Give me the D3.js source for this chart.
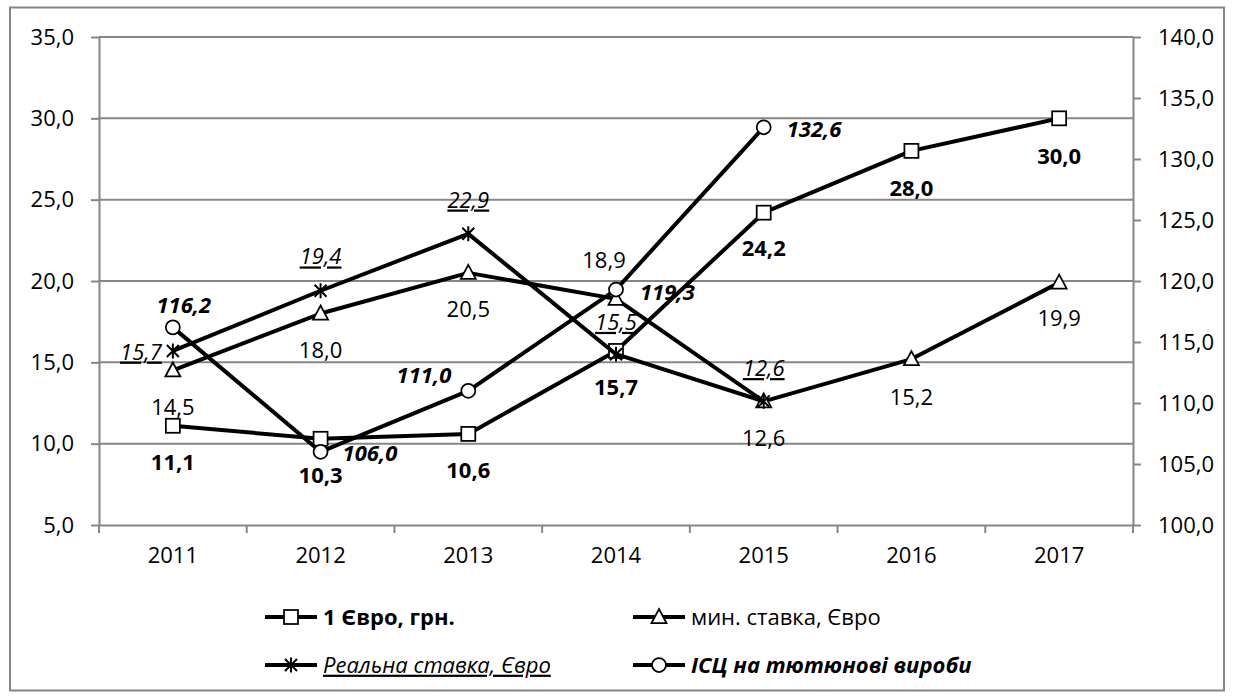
<!DOCTYPE html>
<html>
<head>
<meta charset="utf-8">
<script src="https://cdnjs.cloudflare.com/ajax/libs/d3/7.8.5/d3.min.js"></script>
<style>
  body { margin: 0; background: #fff; }
  text { font-family: "Open Sans", sans-serif; font-size: 22px; fill: #000; }
</style>
</head>
<body>
<div id="chart"></div>
<script>
var years = ["2011", "2012", "2013", "2014", "2015", "2016", "2017"];
var euroRate = [11.1, 10.3, 10.6, 15.7, 24.2, 28.0, 30.0];
var minRate = [14.5, 18.0, 20.5, 18.9, 12.6, 15.2, 19.9];
var realRate = [15.7, 19.4, 22.9, 15.5, 12.6, null, null];
var cpi = [116.2, 106.0, 111.0, 119.3, 132.6, null, null];
var leftTicks = [5, 10, 15, 20, 25, 30, 35];
var rightTicks = [100, 105, 110, 115, 120, 125, 130, 135, 140];
var seriesNames = ["1 Євро, грн.", "мин. ставка, Євро", "Реальна ставка, Євро", "ІСЦ на тютюнові вироби"];

var W = 1234, H = 698,
  m = [37, 101, 173, 99], // top right bottom left
  pw = W - m[1] - m[3],
  ph = H - m[0] - m[2];

var svg = d3.select("#chart").append("svg")
  .attr("width", W)
  .attr("height", H);

var fmt = function(d) { return d3.format(".1f")(d).replace(".", ","); };
var gray = "#868686";

// outer frame
svg.append("rect")
  .attr("x", 10).attr("y", 7.5)
  .attr("width", 1214).attr("height", 683)
  .attr("fill", "none").attr("stroke", gray).attr("stroke-width", 2);

var x = d3.scaleBand().domain(years).range([m[3], m[3] + pw]);
var yL = d3.scaleLinear().domain([5, 35]).range([m[0] + ph, m[0]]);
var yR = d3.scaleLinear().domain([100, 140]).range([m[0] + ph, m[0]]);
var cx = function(i) { return x(years[i]) + x.bandwidth() / 2; };

// gridlines
svg.append("g").selectAll("line")
  .data(leftTicks.slice(1))
  .enter().append("line")
  .attr("x1", m[3]).attr("x2", m[3] + pw)
  .attr("y1", function(d) { return yL(d); })
  .attr("y2", function(d) { return yL(d); })
  .attr("stroke", gray).attr("stroke-width", 2);

function styleAxis(g) {
  g.selectAll("path, line").attr("stroke", gray).attr("stroke-width", 2);
  g.selectAll("text").attr("font-size", null).attr("font-family", null);
}

svg.append("g")
  .attr("transform", "translate(" + m[3] + ",0)")
  .call(d3.axisLeft(yL).tickValues(leftTicks).tickFormat(fmt).tickSize(8).tickSizeOuter(0).tickPadding(17))
  .call(styleAxis);

svg.append("g")
  .attr("transform", "translate(" + (m[3] + pw) + ",0)")
  .call(d3.axisRight(yR).tickValues(rightTicks).tickFormat(fmt).tickSize(8).tickSizeOuter(0).tickPadding(17))
  .call(styleAxis);

// category axis: labels centred, ticks on band edges
var xAxis = svg.append("g")
  .attr("transform", "translate(0," + (m[0] + ph) + ")")
  .call(d3.axisBottom(x).tickSize(0).tickPadding(22))
  .call(styleAxis);
xAxis.selectAll(".tick text").attr("dy", "0.71em");
xAxis.selectAll("line.edge")
  .data(years.map(function(d) { return x(d); }).concat([m[3] + pw]))
  .enter().append("line")
  .attr("class", "edge")
  .attr("x1", function(d) { return d; }).attr("x2", function(d) { return d; })
  .attr("y1", 0).attr("y2", 8)
  .attr("stroke", gray).attr("stroke-width", 2);

// markers
function marker(g, type) {
  if (type === "square") {
    g.append("rect").attr("x", -7).attr("y", -7).attr("width", 14).attr("height", 14)
      .attr("fill", "#fff").attr("stroke", "#000").attr("stroke-width", 1.75);
  } else if (type === "triangle") {
    g.append("path").attr("d", "M0,-8L7.5,6L-7.5,6Z")
      .attr("fill", "#fff").attr("stroke", "#000").attr("stroke-width", 1.75);
  } else if (type === "circle") {
    g.append("circle").attr("r", 7)
      .attr("fill", "#fff").attr("stroke", "#000").attr("stroke-width", 1.75);
  } else {
    g.append("path").attr("d", "M-6,-6L6,6M-6,6L6,-6M0,-7.5L0,7.5")
      .attr("fill", "none").attr("stroke", "#000").attr("stroke-width", 2);
  }
}

var series = [
  { values: euroRate, y: yL, mark: "square",
    font: { weight: "bold", style: "normal", deco: "none" } },
  { values: minRate, y: yL, mark: "triangle",
    font: { weight: "normal", style: "normal", deco: "none" } },
  { values: realRate, y: yL, mark: "star",
    font: { weight: "normal", style: "italic", deco: "underline" } },
  { values: cpi, y: yR, mark: "circle",
    font: { weight: "bold", style: "italic", deco: "none" } }
];

// label placement per series and point: [dx, dy, anchor]
var labelPos = [
  [[0, 37, "middle"], [0, 37, "middle"], [0, 36, "middle"], [0, 36, "middle"], [0, 36, "middle"], [0, 37, "middle"], [0, 38, "middle"]],
  [[0, 37, "middle"], [0, 37, "middle"], [0, 36, "middle"], [-12, -39, "middle"], [0, 37, "middle"], [0, 38, "middle"], [0, 36, "middle"]],
  [[-11, 1, "end"], [0, -34, "middle"], [0, -34, "middle"], [0, -32, "middle"], [0, -33, "middle"]],
  [[11, -22, "middle"], [22, 1, "start"], [-17, -16, "end"], [24, 3, "start"], [23, 2, "start"]]
];

series.forEach(function(s) {
  var pts = s.values.map(function(v, i) { return { i: i, v: v }; })
    .filter(function(d) { return d.v !== null; });

  var line = d3.line()
    .x(function(d) { return cx(d.i); })
    .y(function(d) { return s.y(d.v); });

  svg.append("path")
    .datum(pts)
    .attr("d", line)
    .attr("fill", "none").attr("stroke", "#000").attr("stroke-width", 4)
    .attr("stroke-linejoin", "round");

  svg.append("g").selectAll("g")
    .data(pts)
    .enter().append("g")
    .attr("transform", function(d) { return "translate(" + cx(d.i) + "," + s.y(d.v) + ")"; })
    .each(function() { marker(d3.select(this), s.mark); });
});

series.forEach(function(s, si) {
  var pts = s.values.map(function(v, i) { return { i: i, v: v }; })
    .filter(function(d) { return d.v !== null; });
  svg.append("g").selectAll("text")
    .data(pts)
    .enter().append("text")
    .attr("x", function(d) { return cx(d.i) + labelPos[si][d.i][0]; })
    .attr("y", function(d) { return s.y(d.v) + labelPos[si][d.i][1]; })
    .attr("dy", "0.35em")
    .attr("text-anchor", function(d) { return labelPos[si][d.i][2]; })
    .style("font-weight", s.font.weight)
    .style("font-style", s.font.style)
    .style("text-decoration", s.font.deco)
    .text(function(d) { return fmt(d.v); });
});

// legend
var legendPos = [[265, 617], [633, 617], [265, 665], [633, 665]];
series.forEach(function(s, si) {
  var lg = svg.append("g")
    .attr("transform", "translate(" + legendPos[si][0] + "," + legendPos[si][1] + ")");
  lg.append("line").attr("x1", 0).attr("x2", 52)
    .attr("stroke", "#000").attr("stroke-width", 4);
  var mk = lg.append("g").attr("transform", "translate(26,0)");
  marker(mk, s.mark);
  lg.append("text")
    .attr("x", 58).attr("dy", "0.35em")
    .style("font-weight", s.font.weight)
    .style("font-style", s.font.style)
    .style("text-decoration", s.font.deco)
    .text(seriesNames[si]);
});
</script>
</body>
</html>
